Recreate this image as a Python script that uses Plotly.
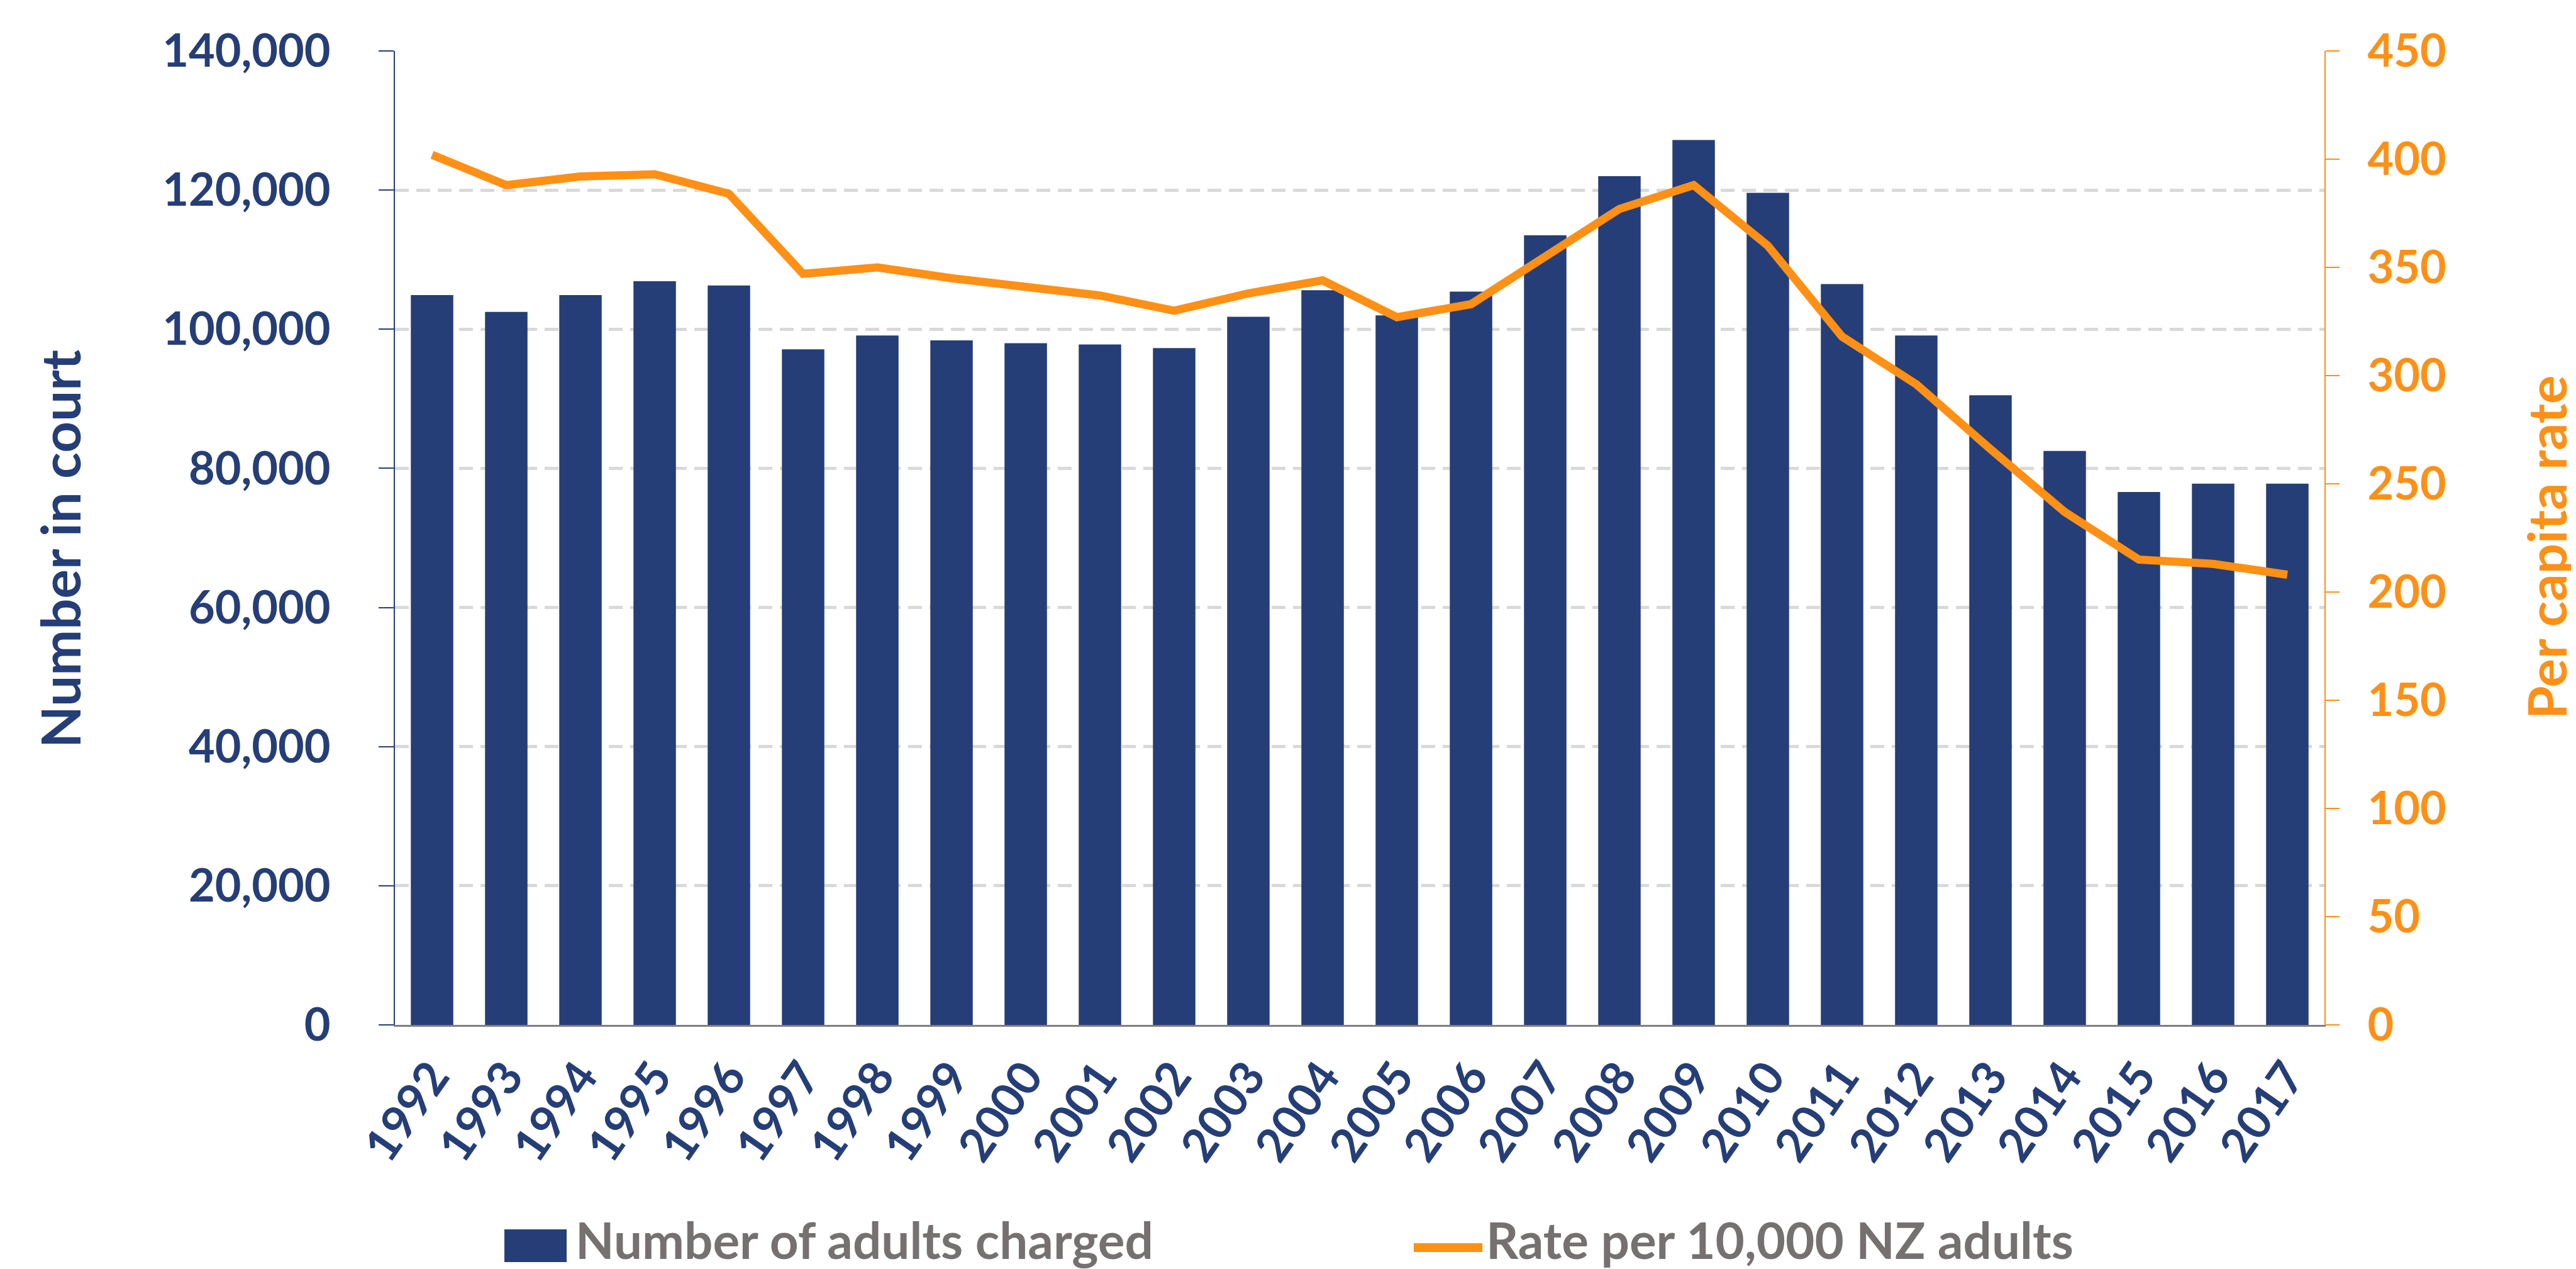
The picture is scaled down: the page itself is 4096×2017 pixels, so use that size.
import plotly.graph_objects as go

years = [str(y) for y in range(1992, 2018)]
adults_charged = [104900, 102500, 104900, 106900, 106300, 97100, 99100, 98400, 98000, 97800,
                  97300, 101800, 105600, 102000, 105400, 113500, 122000, 127200, 119600, 106500,
                  99100, 90500, 82500, 76600, 77800, 77800]
rate_per_10000 = [402, 388, 392, 393, 384, 347, 350, 345, 341, 337,
                  330, 338, 344, 327, 333, 355, 377, 388, 360, 318,
                  296, 266, 237, 215, 213, 208]
left_ticks = [0, 20000, 40000, 60000, 80000, 100000, 120000, 140000]
right_ticks = [0, 50, 100, 150, 200, 250, 300, 350, 400, 450]

NAVY = "#253E77"
ORANGE = "#FF9016"
GREY_TXT = "#767171"
FONT = "Lato"

W, H = 4096, 2017
L, R, T, B = 620, 408, 73, 396
PW, PH = W - L - R, H - T - B

def px(x):
    return (x - L) / PW

def py(y):
    return (H - B - y) / PH

fig = go.Figure()
fig.add_trace(go.Bar(x=years, y=adults_charged, name="Number of adults charged",
                     marker=dict(color=NAVY, line=dict(width=0)), yaxis="y"))
fig.add_trace(go.Scatter(x=years, y=rate_per_10000, name="Rate per 10,000 NZ adults",
                         mode="lines", line=dict(color=ORANGE, width=13), yaxis="y2"))

fig.update_layout(
    width=W, height=H, autosize=False,
    margin=dict(l=L, r=R, t=T, b=B),
    paper_bgcolor="white", plot_bgcolor="white",
    showlegend=False,
    bargap=0.428,
    font=dict(family=FONT, size=72, color=NAVY, weight=700),
    xaxis=dict(
        type="category", tickangle=-55,
        tickfont=dict(family=FONT, size=74, color=NAVY, weight=700),
        showline=True, linecolor="#7F7F7F", linewidth=3,
        ticks="", showgrid=False, ticklabelstandoff=6,
    ),
    yaxis=dict(
        range=[0, 140000], tickvals=left_ticks, tickformat=",",
        tickfont=dict(family=FONT, size=72, color=NAVY, weight=700),
        showline=True, linecolor=NAVY, linewidth=2,
        ticks="outside", ticklen=24, tickwidth=2, tickcolor=NAVY,
        showgrid=True, gridcolor="#D9D9D9", gridwidth=5, griddash="22px,12px",
        zeroline=False, ticklabelstandoff=62,
    ),
    yaxis2=dict(
        range=[0, 450], tickvals=right_ticks, overlaying="y", side="right",
        tickfont=dict(family=FONT, size=72, color=ORANGE, weight=700),
        showline=True, linecolor=ORANGE, linewidth=2,
        ticks="outside", ticklen=22, tickwidth=2, tickcolor=ORANGE,
        showgrid=False, zeroline=False, ticklabelstandoff=30,
    ),
)

# axis titles
fig.add_annotation(text="Number in court", xref="paper", yref="paper",
                   x=px(86), y=py(865), textangle=-90, showarrow=False,
                   xanchor="center", yanchor="middle",
                   font=dict(family=FONT, size=87, color=NAVY, weight=700))
fig.add_annotation(text="Per capita rate", xref="paper", yref="paper",
                   x=px(4040), y=py(862), textangle=-90, showarrow=False,
                   xanchor="center", yanchor="middle",
                   font=dict(family=FONT, size=85, color=ORANGE, weight=700))

# legend (custom, sized like the original)
fig.add_shape(type="rect", xref="paper", yref="paper",
              x0=px(794), x1=px(893), y0=py(1998), y1=py(1946),
              fillcolor=NAVY, line=dict(width=0))
fig.add_annotation(text="Number of adults charged", xref="paper", yref="paper",
                   x=px(905), y=py(1962), showarrow=False, xanchor="left", yanchor="middle",
                   font=dict(family=FONT, size=80, color=GREY_TXT, weight=700))
fig.add_shape(type="line", xref="paper", yref="paper",
              x0=px(2240), x1=px(2349), y0=py(1975), y1=py(1975),
              line=dict(color=ORANGE, width=14))
fig.add_annotation(text="Rate per 10,000 NZ adults", xref="paper", yref="paper",
                   x=px(2353), y=py(1962), showarrow=False, xanchor="left", yanchor="middle",
                   font=dict(family=FONT, size=80, color=GREY_TXT, weight=700))

fig.write_html("out.html")
